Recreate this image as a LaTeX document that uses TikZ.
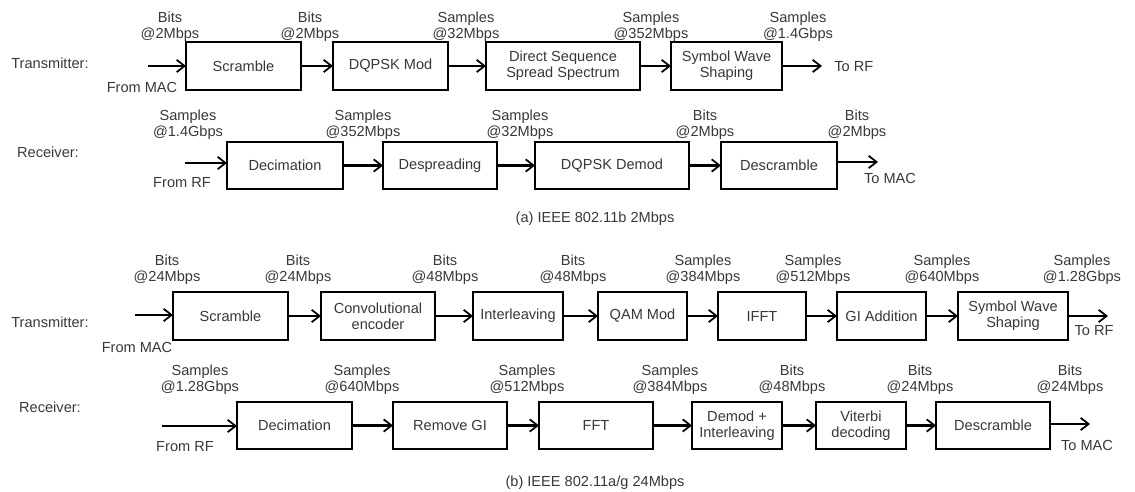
\documentclass[tikz,border=0pt]{standalone}
\usepackage{fontspec}
\setmainfont{Liberation Sans}
\usetikzlibrary{arrows.meta}
\definecolor{txt}{gray}{0.22}
% one unit = 0.02cm, y grows downward
\newcommand{\blk}[6]{%
  \node[blk, minimum width={(#4-#2)*0.02cm}, minimum height={(#5-#3)*0.02cm}]
    (#1) at ({(#2+#4)/2},{(#3+#5)/2}) {#6};}
\newcommand{\rate}[4]{\node[rate] (#1) at (#2,#3) {#4};}
\begin{document}
\begin{tikzpicture}[x=0.02cm,y=-0.02cm,
  every node/.style={font=\fontsize{8.3}{9.2}\selectfont, text=txt},
  blk/.style={draw=black, line width=0.6pt, inner sep=0pt, outer sep=0pt, align=center, fill=white},
  rate/.style={align=center, inner sep=0pt},
  flow/.style={line width=1.2pt, -{Straight Barb[length=4.5pt,width=7pt,line width=1pt]}},
  lbl/.style={inner sep=0pt}]
\useasboundingbox (0,0) rectangle (1135,492);

% ---------------- (a) IEEE 802.11b ----------------
\node[lbl] (txa) at (50,63) {Transmitter:};
\blk{ascr}{186}{42}{301}{90}{Scramble}
\blk{amod}{333}{42}{448}{90}{DQPSK Mod}
\blk{adsss}{486}{42}{640}{90}{Direct Sequence\\Spread Spectrum}
\blk{ashp}{671}{42}{782}{90}{Symbol Wave\\Shaping}
\coordinate (ain) at (148,66);
\coordinate (aout) at (822,66);
\draw[flow] (ain) -- (ascr.west);
\draw[flow] (ascr) -- (amod);
\draw[flow] (amod) -- (adsss);
\draw[flow] (adsss) -- (ashp);
\draw[flow] (ashp) -- (aout);
\node[lbl] (afrom) at (142,87) {From MAC};
\node[lbl, anchor=west] (atorf) at (834,67) {To RF};
\rate{ar1}{170}{26.5}{Bits\\@2Mbps}
\rate{ar2}{310}{26.5}{Bits\\@2Mbps}
\rate{ar3}{466}{26.5}{Samples\\@32Mbps}
\rate{ar4}{651}{26.5}{Samples\\@352Mbps}
\rate{ar5}{798}{26.5}{Samples\\@1.4Gbps}

\node[lbl] (rxa) at (48,152) {Receiver:};
\blk{adec}{227}{142}{343}{189}{Decimation}
\blk{adsp}{383}{142}{497}{189}{Despreading}
\blk{adem}{535}{142}{689}{189}{DQPSK Demod}
\blk{adscr}{721}{142}{837}{189}{Descramble}
\coordinate (bin) at (185,163);
\coordinate (bout) at (878,162);
\draw[flow] (bin) -- (bin -| adec.west);
\draw[flow] (adec) -- (adsp);
\draw[flow] (adsp) -- (adem);
\draw[flow] (adem) -- (adscr);
\draw[flow] (adscr.east |- bout) -- (bout);
\node[lbl] (bfrom) at (182,183) {From RF};
\node[lbl] (btomac) at (890,178) {To MAC};
\rate{br1}{188}{124.5}{Samples\\@1.4Gbps}
\rate{br2}{363}{124.5}{Samples\\@352Mbps}
\rate{br3}{520}{124.5}{Samples\\@32Mbps}
\rate{br4}{705}{124.5}{Bits\\@2Mbps}
\rate{br5}{857}{124.5}{Bits\\@2Mbps}

\node[lbl] (capa) at (595,219) {(a) IEEE 802.11b 2Mbps};

% ---------------- (b) IEEE 802.11a/g ----------------
\node[lbl] (txb) at (50,322) {Transmitter:};
\blk{cscr}{173}{292}{288}{340}{Scramble}
\blk{cconv}{321}{292}{435}{340}{Convolutional\\encoder}
\blk{cint}{473}{292}{563}{340}{Interleaving}
\blk{cqam}{598}{292}{687}{340}{QAM Mod}
\blk{cifft}{718}{292}{806}{340}{IFFT}
\blk{cgi}{837}{292}{926}{340}{GI Addition}
\blk{cshp}{958}{292}{1068}{340}{Symbol Wave\\Shaping}
\coordinate (cin) at (135,315);
\coordinate (cout) at (1108,316);
\draw[flow] (cin) -- (cin -| cscr.west);
\draw[flow] (cscr) -- (cconv);
\draw[flow] (cconv) -- (cint);
\draw[flow] (cint) -- (cqam);
\draw[flow] (cqam) -- (cifft);
\draw[flow] (cifft) -- (cgi);
\draw[flow] (cgi) -- (cshp);
\draw[flow] (cshp) -- (cout);
\node[lbl] (cfrom) at (137,347) {From MAC};
\node[lbl] (ctorf) at (1094,331) {To RF};
\rate{cr1}{167}{270}{Bits\\@24Mbps}
\rate{cr2}{298}{270}{Bits\\@24Mbps}
\rate{cr3}{445}{270}{Bits\\@48Mbps}
\rate{cr4}{573}{270}{Bits\\@48Mbps}
\rate{cr5}{703}{270}{Samples\\@384Mbps}
\rate{cr6}{813}{270}{Samples\\@512Mbps}
\rate{cr7}{942}{270}{Samples\\@640Mbps}
\rate{cr8}{1082}{270}{Samples\\@1.28Gbps}

\node[lbl] (rxb) at (50,407) {Receiver:};
\blk{ddec}{237}{402}{352}{449}{Decimation}
\blk{drgi}{393}{402}{507}{449}{Remove GI}
\blk{dfft}{539}{402}{653}{449}{FFT}
\blk{ddem}{692}{402}{782}{449}{Demod +\\Interleaving}
\blk{dvit}{816}{402}{906}{449}{Viterbi\\decoding}
\blk{ddscr}{936}{402}{1050}{449}{Descramble}
\coordinate (din) at (162,426);
\coordinate (dout) at (1090,424);
\draw[flow] (din) -- (din -| ddec.west);
\draw[flow] (ddec) -- (drgi);
\draw[flow] (drgi) -- (dfft);
\draw[flow] (dfft) -- (ddem);
\draw[flow] (ddem) -- (dvit);
\draw[flow] (dvit) -- (ddscr);
\draw[flow] (ddscr.east |- dout) -- (dout);
\node[lbl] (dfrom) at (185,447) {From RF};
\node[lbl] (dtomac) at (1087,445) {To MAC};
\rate{dr1}{200}{380}{Samples\\@1.28Gbps}
\rate{dr2}{362}{380}{Samples\\@640Mbps}
\rate{dr3}{527}{380}{Samples\\@512Mbps}
\rate{dr4}{670}{380}{Samples\\@384Mbps}
\rate{dr5}{792}{380}{Bits\\@48Mbps}
\rate{dr6}{920}{380}{Bits\\@24Mbps}
\rate{dr7}{1070}{380}{Bits\\@24Mbps}

\node[lbl] (capb) at (595,483) {(b) IEEE 802.11a/g 24Mbps};
\end{tikzpicture}
\end{document}
